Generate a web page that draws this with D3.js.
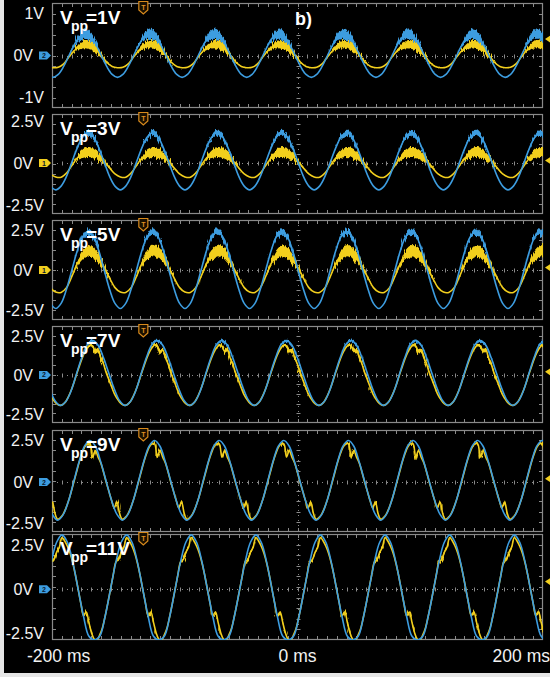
<!DOCTYPE html>
<html>
<head>
<meta charset="utf-8">
<script src="https://cdn.jsdelivr.net/npm/d3@7"></script>
<style>
  html, body { margin: 0; padding: 0; background: #000; }
  svg { display: block; }
</style>
</head>
<body>
<svg id="chart" width="550" height="677"></svg>
<script>
// ---------------- data ----------------
// drive amplitude written on each strip
const driveLabels = ["1V", "3V", "5V", "7V", "9V", "11V"];
// vertical axis ticks of each strip
const yTickValues = [[1, 0, -1], [2.5, 0, -2.5], [2.5, 0, -2.5], [2.5, 0, -2.5], [2.5, 0, -2.5], [2.5, 0, -2.5]];
const yTickLabels = [["1V", "0V", "-1V"], ["2.5V", "0V", "-2.5V"], ["2.5V", "0V", "-2.5V"],
                     ["2.5V", "0V", "-2.5V"], ["2.5V", "0V", "-2.5V"], ["2.5V", "0V", "-2.5V"]];
// visible voltage window of each strip [bottom, top]
const yWindows = [[-1.25, 1.25], [-3.04, 2.92], [-3.12, 3.12], [-3.08, 3.14], [-3.01, 3.13], [-2.89, 3.15]];
// horizontal time window (ms) and its tick labels
const timeWindow = [-250, 250];
const timeTickValues = [-200, 0, 200];
const timeTickLabels = ["-200 ms", "0 ms", "200 ms"];
// channel whose ground marker is shown on each strip
const markerChannel = [2, 1, 1, 2, 2, 2];
// trigger position (ms) and trigger level of each strip (V)
const triggerTime = -157;
const triggerLevels = [0.39, 0.15, 0.15, 0.2, 0.2, 0.44];

// waveform period (ms) and time of the first channel-2 crest of each capture
const tracePeriod = 65.8;
const crestTimes = [-216.2, -213.3, -213.3, -208.5, -211.3, -239.8];

// one period of channel 2 (blue), sampled every 30 degrees from its crest (V)
const blueCycles = [
  [0.52, 0.45, 0.26, 0.0, -0.26, -0.45, -0.52, -0.45, -0.26, 0.0, 0.26, 0.45],
  [1.8, 1.55, 0.9, 0.05, -0.8, -1.38, -1.6, -1.38, -0.8, 0.05, 0.9, 1.55],
  [2.4, 2.08, 1.2, 0.0, -1.2, -2.08, -2.4, -2.08, -1.2, 0.0, 1.2, 2.08],
  [2.2, 1.9, 1.1, 0.1, -0.9, -1.65, -1.95, -1.7, -1.0, 0.1, 1.15, 1.95],
  [2.5, 2.15, 1.2, 0.05, -1.1, -1.95, -2.3, -1.98, -1.15, 0.05, 1.25, 2.17],
  [3.1, 2.68, 1.55, 0.0, -1.55, -2.68, -3.1, -2.68, -1.55, 0.0, 1.55, 2.68]
];
// half-width of the noise band riding on channel 2 (V)
const blueNoise = [
  [0.12, 0.11, 0.08, 0.04, 0, 0, 0, 0, 0, 0, 0.03, 0.09],
  [0.18, 0.16, 0.1, 0.04, 0, 0, 0, 0, 0, 0, 0.04, 0.12],
  [0.2, 0.18, 0.12, 0.05, 0, 0, 0, 0, 0, 0, 0.05, 0.14],
  [0.08, 0.06, 0.03, 0, 0, 0, 0, 0, 0, 0, 0, 0.04],
  [0, 0, 0, 0, 0, 0, 0, 0, 0, 0, 0, 0],
  [0, 0, 0, 0, 0, 0, 0, 0, 0, 0, 0, 0]
];
// one period of channel 1 (yellow), from the channel-2 crest (V)
const yellowCycles = [
  [0.27, 0.24, 0.15, 0.0, -0.16, -0.26, -0.29, -0.28, -0.2, -0.03, 0.12, 0.22],
  [0.65, 0.6, 0.4, 0.1, -0.3, -0.65, -0.83, -0.85, -0.6, -0.15, 0.3, 0.55],
  [1.2, 1.1, 0.7, 0.15, -0.5, -1.1, -1.38, -1.4, -1.1, -0.4, 0.4, 0.95],
  [1.85, 1.5, 1.6, 1.1, 0.7, 0.15, -0.3, -0.75, -1.2, -1.5, -1.75, -1.9,
   -1.95, -1.88, -1.7, -1.38, -0.98, -0.5, 0.05, 0.55, 1.05, 1.45, 1.75, 1.92],
  [2.3, 1.5, 1.9, 1.5, 1.15, 0.6, 0.0, -0.55, -1.1, -1.55, -1.2, -1.9,
   -2.25, -2.15, -1.95, -1.6, -1.15, -0.6, 0.0, 0.6, 1.2, 1.7, 2.1, 2.3],
  [2.95, 2.75, 2.45, 2.05, 1.5, 0.8, 0.0, -0.8, -1.5, -1.3, -1.9, -2.5,
   -2.85, -2.9, -2.6, -2.2, -1.55, -0.8, 0.0, 0.8, 1.55, 1.7, 2.1, 2.4]
];
// half-width of the noise band riding on channel 1 (V)
const yellowNoise = [
  [0.1, 0.1, 0.09, 0.06, 0.02, 0, 0, 0, 0, 0, 0.03, 0.07],
  [0.3, 0.3, 0.25, 0.15, 0.05, 0, 0, 0, 0, 0.02, 0.12, 0.25],
  [0.35, 0.35, 0.3, 0.2, 0.06, 0, 0, 0, 0, 0.03, 0.15, 0.3],
  [0.12, 0.15, 0.15, 0.15, 0.12, 0.1, 0.08, 0.06, 0.04, 0, 0, 0,
   0, 0, 0, 0, 0, 0, 0, 0, 0, 0, 0.03, 0.08],
  [0.1, 0.12, 0.08, 0, 0, 0, 0, 0, 0, 0.08, 0.12, 0.06,
   0, 0, 0, 0, 0, 0, 0, 0, 0, 0, 0, 0.05],
  [0.05, 0, 0, 0, 0, 0, 0, 0, 0.05, 0.1, 0.1, 0.05,
   0, 0, 0, 0, 0, 0, 0, 0, 0.06, 0.1, 0.1, 0.08]
];

// ---------------- layout ----------------
const W = 550, H = 677;
const plotL = 52, plotR = 543;
const stripTop = [3, 114, 220, 326, 430, 534];
const stripBottom = [108, 214, 320, 423, 532, 640];
const BLUE = "#3d9de0", YELLOW = "#f2cf1e", GRID = "#8a8a8a", TEXT = "#f2f2f2";
const FONT = "'Liberation Sans', Arial, Helvetica, sans-serif";

const svg = d3.select("#chart");
svg.append("rect").attr("width", W).attr("height", H).attr("fill", "#000");

const defs = svg.append("defs");
const jitter = defs.append("filter").attr("id", "jitter")
  .attr("x", "-2%").attr("y", "-30%").attr("width", "104%").attr("height", "160%");
jitter.append("feTurbulence").attr("type", "fractalNoise")
  .attr("baseFrequency", "1.3 0.04").attr("numOctaves", 2).attr("seed", 7).attr("result", "n");
jitter.append("feDisplacementMap").attr("in", "SourceGraphic").attr("in2", "n")
  .attr("scale", 6).attr("xChannelSelector", "B").attr("yChannelSelector", "G");

const x = d3.scaleLinear().domain(timeWindow).range([plotL, plotR]);

// repeat one sampled period across the time window
function tileCycle(values, noise, t0) {
  const n = values.length, pts = [];
  for (let k = -1; k <= 8; k++) {
    for (let i = 0; i < n; i++) {
      pts.push({ t: t0 + (k + i / n) * tracePeriod, v: values[i], w: noise[i] });
    }
  }
  return pts;
}

driveLabels.forEach((label, p) => {
  const top = stripTop[p], bottom = stripBottom[p];
  const y = d3.scaleLinear().domain(yWindows[p]).range([bottom, top]).clamp(true);
  const g = svg.append("g");

  defs.append("clipPath").attr("id", "clip" + p)
    .append("rect").attr("x", plotL).attr("y", top)
    .attr("width", plotR - plotL).attr("height", bottom - top);

  // graticule: frame, centre cross and minor ticks
  const grid = g.append("g").attr("stroke", GRID).attr("fill", "none");
  grid.append("rect").attr("x", plotL + 0.5).attr("y", top + 0.5)
    .attr("width", plotR - plotL - 1).attr("height", bottom - top - 1).attr("stroke-width", 1.2);
  const y0 = Math.round(y(0)) + 0.5, xc = Math.round(x(0)) + 0.5;
  grid.append("line").attr("x1", plotL).attr("x2", plotR).attr("y1", y0).attr("y2", y0)
    .attr("stroke-dasharray", "1,4");
  grid.append("line").attr("x1", xc).attr("x2", xc).attr("y1", top).attr("y2", bottom)
    .attr("stroke-dasharray", "1,4");
  const minorT = d3.range(timeWindow[0] + 10, timeWindow[1], 10);
  minorT.forEach(t => {
    const xx = Math.round(x(t)) + 0.5;
    grid.append("line").attr("x1", xx).attr("x2", xx).attr("y1", top).attr("y2", top + 4);
    grid.append("line").attr("x1", xx).attr("x2", xx).attr("y1", bottom - 4).attr("y2", bottom);
    grid.append("line").attr("x1", xx).attr("x2", xx).attr("y1", y0 - 2).attr("y2", y0 + 2);
  });
  const vStep = (bottom - top) / 10;
  d3.range(1, 10).forEach(k => {
    const yy = Math.round(top + k * vStep) + 0.5;
    grid.append("line").attr("x1", plotL).attr("x2", plotL + 4).attr("y1", yy).attr("y2", yy);
    grid.append("line").attr("x1", plotR - 4).attr("x2", plotR).attr("y1", yy).attr("y2", yy);
    grid.append("line").attr("x1", xc - 2).attr("x2", xc + 2).attr("y1", yy).attr("y2", yy);
  });

  // traces
  const traces = g.append("g").attr("clip-path", `url(#clip${p})`);
  const line = d3.line().x(d => x(d.t)).y(d => y(d.v)).curve(d3.curveCatmullRom.alpha(0.5));
  const band = d3.area().x(d => x(d.t)).y0(d => y(d.v - d.w)).y1(d => y(d.v + d.w))
    .curve(d3.curveCatmullRom.alpha(0.5));
  const blue = tileCycle(blueCycles[p], blueNoise[p], crestTimes[p]);
  const yellow = tileCycle(yellowCycles[p], yellowNoise[p], crestTimes[p]);

  traces.append("path").datum(blue).attr("d", band).attr("fill", BLUE).attr("filter", "url(#jitter)");
  traces.append("path").datum(yellow).attr("d", band).attr("fill", YELLOW).attr("filter", "url(#jitter)");
  traces.append("path").datum(yellow).attr("d", line).attr("fill", "none")
    .attr("stroke", YELLOW).attr("stroke-width", 1.6);
  traces.append("path").datum(blue).attr("d", line).attr("fill", "none")
    .attr("stroke", BLUE).attr("stroke-width", 1.6);

  // vertical axis labels
  yTickValues[p].forEach((v, i) => {
    g.append("text").attr("x", v === 0 ? 33 : 44).attr("y", y(v)).attr("dy", "0.36em")
      .attr("text-anchor", "end").attr("fill", TEXT)
      .attr("font-family", FONT).attr("font-size", 16).text(yTickLabels[p][i]);
  });

  // ground marker of the displayed channel
  const mc = markerChannel[p] === 1 ? YELLOW : BLUE;
  const gy = y(0);
  g.append("path").attr("d", `M39,${gy - 4}H47L51,${gy}L47,${gy + 4}H39Z`).attr("fill", mc);
  g.append("text").attr("x", 44).attr("y", gy).attr("dy", "0.36em").attr("text-anchor", "middle")
    .attr("font-family", FONT).attr("font-size", 7).attr("font-weight", "bold")
    .attr("fill", "#0a2030").text(markerChannel[p]);

  // trigger position marker
  const tx = x(triggerTime);
  g.append("path").attr("d", `M${tx - 4.5},${top - 1.5}H${tx + 4.5}V${top + 7}L${tx},${top + 11}L${tx - 4.5},${top + 7}Z`)
    .attr("fill", "#1a1000").attr("stroke", "#d88a1c").attr("stroke-width", 1.2);
  g.append("text").attr("x", tx).attr("y", top + 6.5).attr("text-anchor", "middle")
    .attr("font-family", FONT).attr("font-size", 7).attr("font-weight", "bold")
    .attr("fill", "#e09020").text("T");

  // trigger level marker
  const ty = y(triggerLevels[p]);
  g.append("path").attr("d", `M551,${ty - 4}L545,${ty}L551,${ty + 4}Z`).attr("fill", YELLOW);

  // strip title  V_pp = ...
  const tb = top + 21;
  const title = g.append("g").attr("font-family", FONT).attr("font-weight", "bold").attr("fill", "#fff");
  title.append("text").attr("x", 60).attr("y", tb).attr("font-size", 19).text("V");
  title.append("text").attr("x", 71).attr("y", tb + 7).attr("font-size", 14).text("pp");
  title.append("text").attr("x", 86).attr("y", tb).attr("font-size", 19).text("=" + label);
});

// panel tag
svg.append("text").attr("x", 295).attr("y", 25).attr("font-family", FONT)
  .attr("font-weight", "bold").attr("font-size", 18).attr("fill", "#fff").text("b)");

// time axis labels
timeTickValues.forEach((t, i) => {
  const anchor = i === 0 ? "start" : (i === timeTickValues.length - 1 ? "end" : "middle");
  const xx = i === 0 ? 27 : (i === timeTickValues.length - 1 ? 550 : x(t));
  svg.append("text").attr("x", xx).attr("y", 662).attr("text-anchor", anchor)
    .attr("font-family", FONT).attr("font-size", 17.5).attr("fill", TEXT).text(timeTickLabels[i]);
});

// light margin at left and bottom edges
svg.append("rect").attr("x", 0).attr("y", 0).attr("width", 4).attr("height", H).attr("fill", "#e6e6e6");
svg.append("rect").attr("x", 0).attr("y", H - 4).attr("width", W).attr("height", 4).attr("fill", "#e6e6e6");
</script>
</body>
</html>
